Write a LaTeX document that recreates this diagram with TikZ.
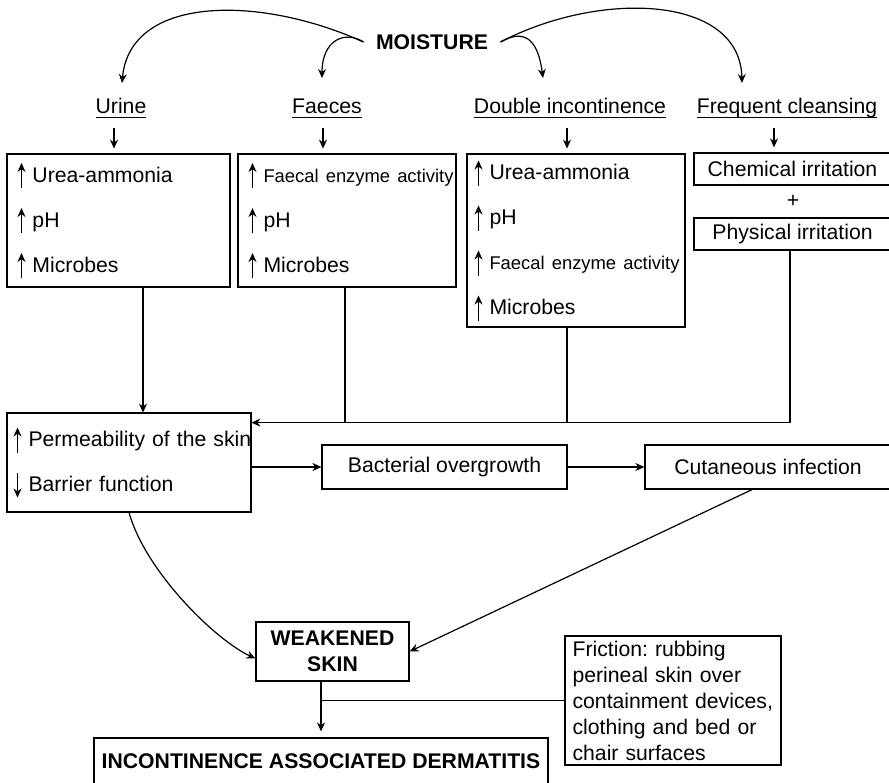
\documentclass[tikz,border=0pt]{standalone}
\usepackage{fontspec}
\setmainfont{Liberation Sans}
\usetikzlibrary{arrows.meta}
\frenchspacing

\tikzset{
	arr/.style={-{Stealth[length=4.5pt,width=4pt]}},
	flowbox/.style={draw, inner sep=0pt, font=\fontsize{10.6}{13}\selectfont},
	listbox/.style={flowbox, align=left, font=\fontsize{10.6}{22.5}\selectfont},
	causelabel/.style={font=\fontsize{10.6}{13}\selectfont, anchor=base}
}

\newcommand{\uparr}{\tikz[baseline=0pt]\draw[-{Stealth[length=4.5pt,width=4pt]}, line width=0.6pt] (0pt,-3pt) -- (0pt,9.5pt);}
\newcommand{\downarr}{\tikz[baseline=0pt]\draw[-{Stealth[length=4.5pt,width=4pt]}, line width=0.6pt] (0pt,9.5pt) -- (0pt,-3pt);}
\newcommand{\uprow}[1]{\mbox{\uparr\hspace{3.5pt}#1}}
\newcommand{\downrow}[1]{\mbox{\downarr\hspace{3.5pt}#1}}
\newcommand{\smallfont}{\fontsize{9.2}{22.5}\selectfont}
\newcommand{\ulab}[1]{\underline{\smash{#1}\rule[-1pt]{0pt}{1pt}}}

\begin{document}
\begin{tikzpicture}[x=0.5pt, y=-0.5pt, line width=0.6pt]
	\useasboundingbox (0,0) rectangle (889,782);

	% source
	\node[causelabel, anchor=center, font=\bfseries\fontsize{10.6}{13}\selectfont, inner xsep=6pt] (moist) at (432,42) {MOISTURE};

	% causes
	\node[causelabel] (urine)	at (121,113) {\ulab{Urine}};
	\node[causelabel] (faeces)	at (327,113) {\ulab{Faeces}};
	\node[causelabel] (double)	at (570,113) {\ulab{Double incontinence}};
	\node[causelabel] (cleans)	at (787,113) {\ulab{Frequent cleansing}};

	% arrow ends under moisture
	\coordinate (tipU) at (122,83);
	\coordinate (tipF) at (322,78);
	\coordinate (tipD) at (543,78);
	\coordinate (tipC) at (742,83);

	\draw[arr]	(moist.west) .. controls (260,-5) and (130,-5) .. (tipU);
	\draw[arr]	(moist.west) .. controls (345,30) and (322,40) .. (tipF);
	\draw[arr]	(moist.east) .. controls (525,28) and (538,40) .. (tipD);
	\draw[arr]	(moist.east) .. controls (600,-10) and (740,-5) .. (tipC);

	% effect boxes
	\node[listbox, minimum width=111.5pt, minimum height=66.5pt, text width=101pt] (ubox) at (118.5,220.5)
		{\uprow{Urea-ammonia}\\ \uprow{pH}\\ \uprow{Microbes}};
	\node[listbox, minimum width=109pt, minimum height=66.5pt, text width=98.5pt] (fbox) at (347,220.5)
		{\uprow{\smallfont Faecal enzyme activity}\\ \uprow{pH}\\ \uprow{Microbes}};
	\node[listbox, minimum width=109pt, minimum height=86.5pt, text width=101.5pt] (dbox) at (576,240.5)
		{\uprow{Urea-ammonia}\\ \uprow{pH}\\ \uprow{\smallfont Faecal enzyme activity}\\ \uprow{Microbes}};
	\node[flowbox, minimum width=98.5pt, minimum height=16pt] (cbox) at (792.5,169) {Chemical irritation};
	\node[causelabel, anchor=center] (plus) at (793,201) {+};
	\node[flowbox, minimum width=98.5pt, minimum height=16pt] (pbox) at (792.5,234) {Physical irritation};

	% small arrows cause -> box
	\foreach \lab/\bx/\dx in {urine/ubox/-3.5pt, faeces/fbox/-2pt, double/dbox/-1.5pt, cleans/cbox/-6.5pt}
		\draw[arr, shorten <=1pt, shorten >=2.5pt] ([xshift=\dx]\lab.south) -- ([xshift=\dx]\lab.south |- \bx.north);

	% skin
	\node[listbox, minimum width=122pt, minimum height=49.5pt, text width=115.5pt] (perm) at (129,462.5)
		{\uprow{Permeability of the skin}\\ \downrow{Barrier function}};
	\node[flowbox, minimum width=122.5pt, minimum height=22pt] (bact) at (444.5,467) {Bacterial overgrowth};
	\node[flowbox, minimum width=123pt, minimum height=22pt] (cut) at (768,467) {Cutaneous infection};

	% joining lines
	\coordinate (join) at ([yshift=-5pt]perm.north east);
	\draw[arr]	([xshift=12.25pt]ubox.south) -- ([xshift=12.25pt]ubox.south |- perm.north);
	\draw[arr]	([xshift=-1.25pt]pbox.south) |- (join);
	\draw		([xshift=-1pt]fbox.south) -- ([xshift=-1pt]fbox.south |- join)
				([xshift=-4.5pt]dbox.south) -- ([xshift=-4.5pt]dbox.south |- join);
	\draw[arr]	(perm.east |- bact.west) -- (bact.west);
	\draw[arr]	(bact.east) -- (cut.west);

	% result
	\node[flowbox, align=center, font=\bfseries\fontsize{10.6}{13}\selectfont, minimum width=76.5pt, minimum height=29.5pt] (weak) at (332.5,651.5) {WEAKENED\\SKIN};
	\node[flowbox, align=left, text width=100.4pt, minimum width=108pt, minimum height=64.5pt] (fric) at (673,700.5)
		{Friction: rubbing\\perineal skin over\\containment devices,\\clothing and bed or\\chair surfaces};
	\node[flowbox, font=\bfseries\fontsize{10.6}{13}\selectfont, minimum width=227pt, minimum height=23pt] (inc) at (321,761) {INCONTINENCE ASSOCIATED DERMATITIS};

	\draw[arr]	(perm.south) .. controls +(16,58) and +(-41,-19) .. ([yshift=-3.5pt]weak.west);
	\draw[arr]	([xshift=-8pt]cut.south) -- (weak.east);
	\draw[arr, shorten >=3pt]	(weak.south -| inc.north) -- (inc.north);
	\draw		(fric.west) -- (fric.west -| inc.north);
\end{tikzpicture}
\end{document}
